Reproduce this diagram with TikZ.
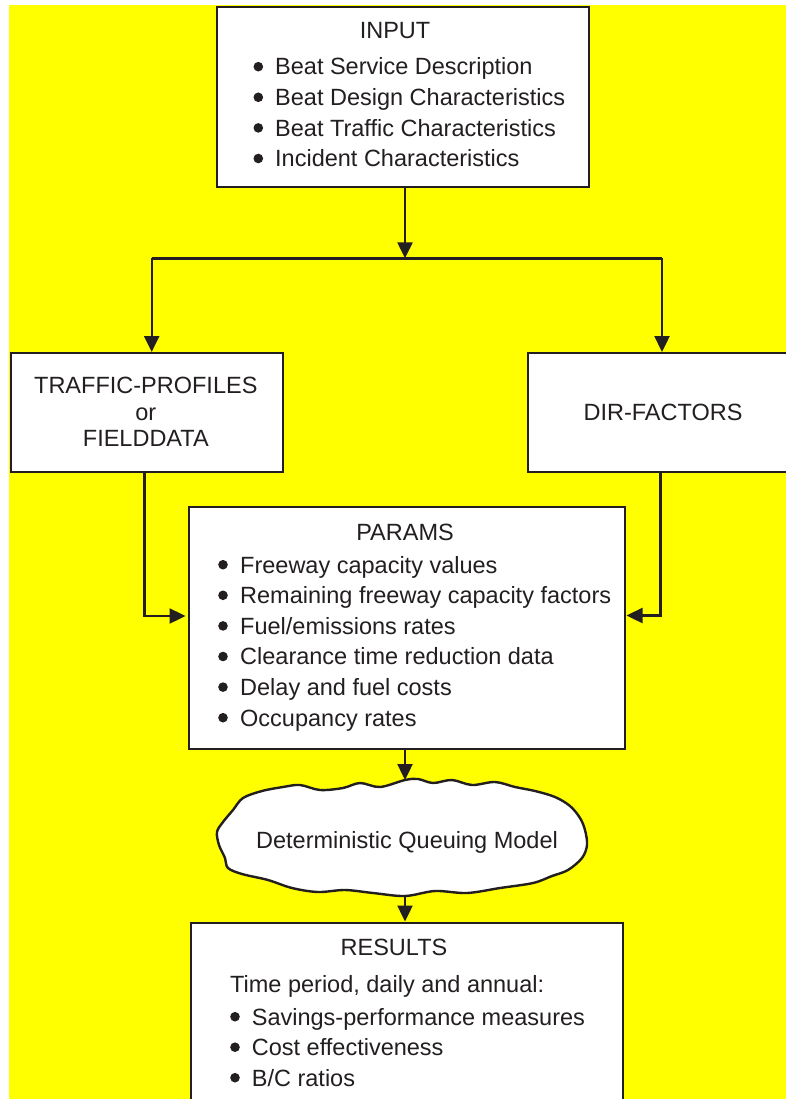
\documentclass[tikz,border=0pt]{standalone}
\usepackage{fontspec}
\setmainfont{Liberation Sans}
\usetikzlibrary{arrows.meta}
\definecolor{bgyellow}{RGB}{255,255,0}
\definecolor{ink}{RGB}{35,31,32}
\tikzset{%
  box/.style={draw=ink,line width=2pt,fill=white,inner sep=0pt,anchor=north west},
  txt/.style={text=ink,inner sep=0pt,anchor=base,font=\fontsize{23.5}{28}\selectfont},
  item/.style={txt,anchor=base west},
  dot/.style={fill=ink},
  link/.style={draw=ink,line width=2.4pt},
  flow/.style={link,-{Triangle[length=16pt,width=15pt]}},
  cloudline/.style={draw=ink,line width=2.4pt,fill=white}
}

\begin{document}
\begin{tikzpicture}[x=1pt,y=-1pt]
  \useasboundingbox (0,0) rectangle (786,1099);
  \clip (0,0) rectangle (786,1099);
  \fill[bgyellow] (9,5) rectangle (786,1099);

  \node[box,minimum width=372pt,minimum height=180pt] (input) at (216,6.5) {};
  \node[box,minimum width=272pt,minimum height=119pt] (traffic) at (9.5,352) {};
  \node[box,minimum width=280pt,minimum height=119pt] (dir) at (527,352) {};
  \node[box,minimum width=436pt,minimum height=242pt] (params) at (187.5,505.5) {};
  \node[box,minimum width=432pt,minimum height=200pt] (results) at (190,921.5) {};

  \node[txt] (intitle) at (395,38.5) {INPUT};
  \foreach \t [count=\i] in {Beat Service Description,Beat Design Characteristics,
      Beat Traffic Characteristics,Incident Characteristics} {
    \fill[dot] (258.3,{75+30.6*(\i-1)-8.3}) circle (4.8pt);
    \node[item] (in\i) at (275,{75+30.6*(\i-1)}) {\t};
  }

  \node[txt] (tp1) at (145.8,393.5) {TRAFFIC-PROFILES};
  \node[txt] (tp2) at (145.8,420) {or};
  \node[txt] (tp3) at (145.8,446.7) {FIELDDATA};
  \node[txt] (dirtxt) at (663,420) {DIR-FACTORS};

  \node[txt] (partitle) at (405,540) {PARAMS};
  \foreach \t [count=\i] in {Freeway capacity values,Remaining freeway capacity factors,
      Fuel/emissions rates,Clearance time reduction data,Delay and fuel costs,Occupancy rates} {
    \fill[dot] (223,{573+30.6*(\i-1)-8.3}) circle (4.8pt);
    \node[item] (par\i) at (240,{573+30.6*(\i-1)}) {\t};
  }

  \draw[cloudline] plot[smooth cycle,tension=0.55] coordinates {
    (405,780) (418,779) (433,783) (452,780) (472,785) (495,782) (515,787)
    (535,791) (555,797) (570,806) (580,818) (585,830) (587,845) (582,858)
    (568,870) (552,876) (533,883) (500,888) (467,893) (435,891) (405,896)
    (373,893) (345,890) (318,892) (292,888) (268,880) (242,874) (228,868)
    (225,858) (219,845) (217,832) (223,822) (233,810) (243,798) (262,791)
    (283,787) (300,785) (320,790) (343,788) (360,783) (380,787)};
  \coordinate (mtop) at (405,780);
  \coordinate (mbot) at (405,895);
  \node[txt] (model) at (407,848) {Deterministic Queuing Model};

  \node[txt] (restitle) at (394,955) {RESULTS};
  \node[item] (period) at (230,992) {Time period, daily and annual:};
  \foreach \t [count=\i] in {Savings-performance measures,Cost effectiveness,B/C ratios} {
    \fill[dot] (235,{1025+30.5*(\i-1)-8.3}) circle (4.8pt);
    \node[item] (res\i) at (251.7,{1025+30.5*(\i-1)}) {\t};
  }

  \coordinate (split) at (405,258.3);
  \coordinate (lsplit) at (151.7,258.3);
  \coordinate (rsplit) at (662,258.3);
  \coordinate (ljoin) at (144.3,616);
  \coordinate (rjoin) at (660.3,615.5);

  \draw[flow] (input.south -| split) -- (split);
  \draw[link] (lsplit) -- (rsplit);
  \draw[flow] (lsplit) -- (lsplit |- traffic.north);
  \draw[flow] (rsplit) -- (rsplit |- dir.north);
  \draw[flow,shorten >=2pt] (ljoin |- traffic.south) -- (ljoin) -- (ljoin -| params.west);
  \draw[flow,shorten >=1pt] (rjoin |- dir.south) -- (rjoin) -- (rjoin -| params.east);
  \draw[flow] (mtop |- params.south) -- (mtop);
  \draw[flow] (mbot) -- (mbot |- results.north);
\end{tikzpicture}
\end{document}
